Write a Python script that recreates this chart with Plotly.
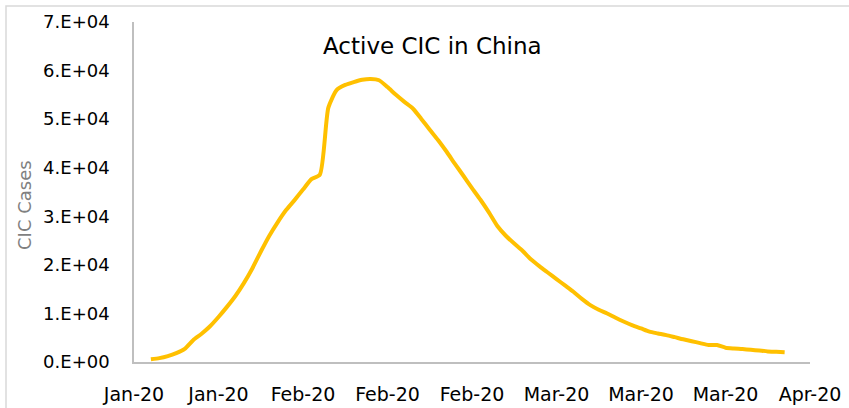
import plotly.graph_objects as go
import pandas as pd

# Data (active cases, daily)
start_date = "2020-01-22"
active_cases = [
    560, 800, 1220, 1830, 2700, 4500, 5810, 7360, 9270, 11350,
    13590, 16230, 19260, 22700, 25950, 28760, 31280, 33330, 35490, 37650,
    38600, 52360, 56030, 57050, 57630, 58100, 58270, 58000, 56600, 55010,
    53560, 52200, 50050, 47830, 45660, 43280, 40750, 38300, 35800, 33400,
    30800, 28000, 25990, 24390, 22850, 21090, 19680, 18370, 17070, 15760,
    14450, 13000, 11710, 10760, 9980, 9100, 8290, 7540, 6910, 6250,
    5880, 5540, 5110, 4670, 4280, 3890, 3500, 3480, 2950, 2780,
    2670, 2520, 2350, 2180, 2100, 2010,
]
dates = pd.date_range(start_date, periods=len(active_cases), freq="D")

y_tick_values = [0, 10000, 20000, 30000, 40000, 50000, 60000, 70000]
y_tick_labels = ["0.E+00", "1.E+04", "2.E+04", "3.E+04", "4.E+04", "5.E+04", "6.E+04", "7.E+04"]
x_tick_dates = ["2020-01-20", "2020-01-30", "2020-02-09", "2020-02-19", "2020-02-29",
                "2020-03-10", "2020-03-20", "2020-03-30", "2020-04-09"]
x_tick_labels = ["Jan-20", "Jan-20", "Feb-20", "Feb-20", "Feb-20", "Mar-20", "Mar-20", "Mar-20", "Apr-20"]

title_text = "Active CIC in China"
y_title = "CIC Cases"

W, H = 849, 408
L, R, T, B = 134, 39, 22, 46
pw, ph = W - L - R, H - T - B

def px_to_paper_x(px):
    return (px - L) / pw

def px_to_paper_y(py):
    return (H - B - py) / ph

font_family = "DejaVu Sans"

fig = go.Figure()
fig.add_trace(go.Scatter(
    x=dates, y=active_cases, mode="lines",
    line=dict(color="#FFC000", width=4, shape="spline", smoothing=0.6),
    showlegend=False, hoverinfo="x+y",
))

fig.update_layout(
    width=W, height=H,
    margin=dict(l=L, r=R, t=T, b=B, pad=0, autoexpand=False),
    paper_bgcolor="white", plot_bgcolor="white",
    font=dict(family=font_family, size=18, color="#000000"),
    xaxis=dict(
        type="date", range=[x_tick_dates[0], x_tick_dates[-1]],
        tickmode="array", tickvals=x_tick_dates, ticktext=x_tick_labels,
        showgrid=False, zeroline=False, showline=True, automargin=False,
        linecolor="#bfbfbf", linewidth=1.5, ticks="",
        ticklabelstandoff=14,
        tickfont=dict(family=font_family, size=19, color="#000000"),
    ),
    yaxis=dict(
        range=[0, 70000], tickmode="array",
        tickvals=y_tick_values, ticktext=y_tick_labels,
        showgrid=False, zeroline=False, showline=True, automargin=False,
        linecolor="#bfbfbf", linewidth=1.5, ticks="",
        ticklabelstandoff=19,
        tickfont=dict(family=font_family, size=18, color="#000000"),
    ),
    shapes=[dict(
        type="rect", xref="paper", yref="paper",
        x0=px_to_paper_x(6), x1=px_to_paper_x(870),
        y0=px_to_paper_y(430), y1=px_to_paper_y(6),
        line=dict(color="#d9d9d9", width=1.5), fillcolor="rgba(0,0,0,0)",
        layer="below",
    )],
    annotations=[
        dict(text=title_text, xref="paper", yref="paper",
             x=px_to_paper_x(432), y=px_to_paper_y(46),
             xanchor="center", yanchor="middle", showarrow=False,
             font=dict(family=font_family, size=23, color="#000000")),
        dict(text=y_title, xref="paper", yref="paper",
             x=px_to_paper_x(24), y=px_to_paper_y(205),
             xanchor="center", yanchor="middle", showarrow=False, textangle=-90,
             font=dict(family=font_family, size=18, color="#808080")),
    ],
)

fig.write_html(
    "out.html",
    config={"displayModeBar": False},
    post_script="document.body.style.margin='0';document.body.style.overflow='hidden';",
)
